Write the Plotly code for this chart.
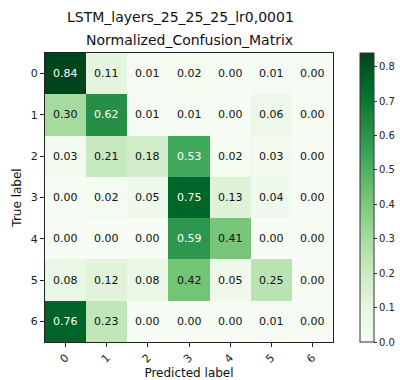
import plotly.graph_objects as go

labels = ["0", "1", "2", "3", "4", "5", "6"]
values = [
    [0.84, 0.11, 0.01, 0.02, 0.00, 0.01, 0.00],
    [0.30, 0.62, 0.01, 0.01, 0.00, 0.06, 0.00],
    [0.03, 0.21, 0.18, 0.53, 0.02, 0.03, 0.00],
    [0.00, 0.02, 0.05, 0.75, 0.13, 0.04, 0.00],
    [0.00, 0.00, 0.00, 0.59, 0.41, 0.00, 0.00],
    [0.08, 0.12, 0.08, 0.42, 0.05, 0.25, 0.00],
    [0.76, 0.23, 0.00, 0.00, 0.00, 0.01, 0.00],
]
suptitle = "LSTM_layers_25_25_25_lr0,0001"
title = "Normalized_Confusion_Matrix"
cbar_ticks = [0, 0.1, 0.2, 0.3, 0.4, 0.5, 0.6, 0.7, 0.8]
cbar_labels = ["0.0", "0.1", "0.2", "0.3", "0.4", "0.5", "0.6", "0.7", "0.8"]

greens = [
    [0.0, "#f7fcf5"], [0.125, "#e5f5e0"], [0.25, "#c7e9c0"], [0.375, "#a1d99b"],
    [0.5, "#74c476"], [0.625, "#41ab5d"], [0.75, "#238b45"], [0.875, "#006d2c"],
    [1.0, "#00441b"],
]

vmax = max(max(r) for r in values)
thresh = vmax / 2

fig = go.Figure()
fig.add_trace(go.Heatmap(
    z=values, x=list(range(7)), y=list(range(7)),
    colorscale=greens, zmin=0, zmax=vmax, xgap=0, ygap=0,
    colorbar=dict(
        x=1.094, xanchor="left", xref="paper", y=0, yanchor="bottom", len=1, lenmode="fraction",
        xpad=0, ypad=0,
        thickness=14, outlinewidth=1, outlinecolor="#333",
        ticks="outside", ticklen=3, tickwidth=1, tickcolor="#333",
        tickvals=cbar_ticks, ticktext=cbar_labels,
        tickfont=dict(size=10, color="#222"),
    ),
    hoverinfo="skip",
))

for i, row in enumerate(values):
    for j, v in enumerate(row):
        fig.add_annotation(
            x=j, y=i, text=f"{v:.2f}", showarrow=False,
            font=dict(size=11, color="white" if v > thresh else "#111"),
        )

fig.add_annotation(xref="paper", yref="paper", x=(180 - 45) / 288, y=1 + (53 - 17) / 289,
                   xanchor="center", yanchor="middle",
                   text=suptitle, showarrow=False, font=dict(size=14, color="#111"))
fig.add_annotation(xref="paper", yref="paper", x=0.5, y=1 + (53 - 40) / 289,
                   xanchor="center", yanchor="middle",
                   text=title, showarrow=False, font=dict(size=14, color="#111"))

fig.update_xaxes(
    tickvals=list(range(7)), ticktext=labels, tickangle=-45, automargin=False,
    range=[-0.5, 6.5], showline=True, linecolor="#222", mirror=True, linewidth=1,
    ticks="outside", ticklen=4, tickcolor="#222", showgrid=False, zeroline=False,
    tickfont=dict(size=11, color="#222"),
    title=dict(text="Predicted label", font=dict(size=12, color="#111"), standoff=4),
)
fig.update_yaxes(
    tickvals=list(range(7)), ticktext=labels, autorange=False, automargin=False,
    range=[6.5, -0.5], showline=True, linecolor="#222", mirror=True, linewidth=1,
    ticks="outside", ticklen=4, tickcolor="#222", showgrid=False, zeroline=False,
    tickfont=dict(size=11, color="#222"),
    title=dict(text="True label", font=dict(size=12, color="#111"), standoff=6),
)

fig.update_layout(
    width=400, height=380,
    margin=dict(l=45, r=67, t=53, b=38, autoexpand=False),
    paper_bgcolor="white", plot_bgcolor="white",
    font=dict(family="DejaVu Sans"),
    showlegend=False,
)

fig.write_html("out.html")
